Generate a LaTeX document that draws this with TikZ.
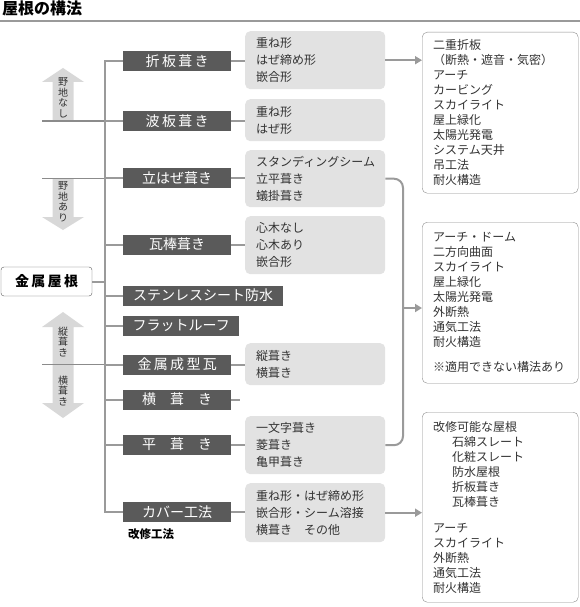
\documentclass[tikz,border=0pt]{standalone}
\usepackage{fontspec}
\setmainfont{Noto Sans CJK JP}
\usetikzlibrary{calc,arrows.meta}
\definecolor{barfill}{HTML}{5A5A5A}
\definecolor{subfill}{HTML}{E2E2E2}
\definecolor{subtext}{HTML}{333333}
\definecolor{linegray}{HTML}{9A9A9A}
\definecolor{notedraw}{HTML}{8C8C8C}
\definecolor{shaftfill}{HTML}{D8D8D8}

\begin{document}
\begin{tikzpicture}[x=1pt,y=-1pt,
  kind/.style={fill=barfill,text=white,font=\fontsize{14}{16}\selectfont,
    minimum height=20pt,inner sep=0pt,anchor=west},
  sub/.style={fill=subfill,rounded corners=5pt,text=subtext,align=left,
    font=\fontsize{12}{17}\selectfont,inner xsep=11pt,inner ysep=0pt,
    text width=118pt,anchor=north west},
  note/.style={draw=notedraw,fill=white,rounded corners=5pt,text=subtext,
    align=left,font=\fontsize{12}{15}\selectfont,inner xsep=11pt,
    inner ysep=0pt,text width=134pt,anchor=north west},
  vlabel/.style={text=subtext,align=center,font=\fontsize{10}{10.5}\selectfont,inner sep=0pt},
  link/.style={draw=linegray,line width=2pt},
  tolink/.style={link,-{Triangle[length=7pt,width=8pt]}},
  divider/.style={draw=linegray!90!black,line width=1pt}]
\useasboundingbox (0,0) rectangle (580,607);

% title
\node[anchor=north west,inner sep=0pt,font=\bfseries\fontsize{16}{16}\selectfont] (title) at (2,1) {屋根の構法};
\draw[link] (0,21) -- (580,21);

% block arrows at the left
\foreach \s/\b/\t in {121/82/68, 178/217/230, 364.5/327/312, 364.5/403/418}
  \fill[shaftfill] (52.5,\s) -- (52.5,\b) -- (42,\b) -- (63,\t) -- (84,\b)
    -- (73.5,\b) -- (73.5,\s) -- cycle;
\node[vlabel] (nashi) at (63,98) {野\\地\\な\\し};
\node[vlabel] (ari) at (63,202) {野\\地\\あ\\り};
\node[vlabel] (tate) at (63,342) {縦\\葺\\き};
\node[vlabel] (yokob) at (63,391) {横\\葺\\き};

% roof kinds
\node[draw=barfill,fill=white,rounded corners=3pt,minimum width=91pt,minimum height=29pt,
  font=\bfseries\fontsize{14}{16}\selectfont] (kinzoku) at (46.5,281.5) {金\,属\,屋\,根};
\node[kind,minimum width=108pt] (oriita) at (123,61) {折\,板\,葺\,き};
\node[kind,minimum width=108pt] (namiita) at (123,121) {波\,板\,葺\,き};
\node[kind,minimum width=108pt] (tatehaze) at (123,178) {立はぜ葺き};
\node[kind,minimum width=108pt] (kawara) at (123,244.5) {瓦棒葺き};
\node[kind,minimum width=160pt] (sus) at (123,295.5) {ステンレスシート防水};
\node[kind,minimum width=116pt] (flat) at (123,325.5) {フラットルーフ};
\node[kind,minimum width=108pt] (seikei) at (123,364.5) {金\,属\,成\,型\,瓦};
\node[kind,minimum width=108pt] (yoko) at (123,399.5) {横　葺　き};
\node[kind,minimum width=108pt] (hira) at (123,444.5) {平　葺　き};
\node[kind,minimum width=108pt] (cover) at (123,512) {カバー工法};
\node[anchor=north west,inner sep=0pt,font=\bfseries\fontsize{11.5}{13}\selectfont]
  (kaishu) at ($(cover.south west)+(5,6)$) {改修工法};

% forms
\node[sub,minimum height=58pt] (oriita-s) at (245,31) {重ね形\\はぜ締め形\\嵌合形};
\node[sub,minimum height=42pt] (namiita-s) at (245,99) {重ね形\\はぜ形};
\node[sub,minimum height=57pt] (tatehaze-s) at (245,150) {スタンディングシーム\\立平葺き\\蟻掛葺き};
\node[sub,minimum height=58pt] (kawara-s) at (245,216) {心木なし\\心木あり\\嵌合形};
\node[sub,minimum height=42pt] (seikei-s) at (245,343) {縦葺き\\横葺き};
\node[sub,minimum height=58pt] (hira-s) at (245,416) {一文字葺き\\菱葺き\\亀甲葺き};
\node[sub,minimum height=59pt] (cover-s) at (245,483) {重ね形・はぜ締め形\\嵌合形・シーム溶接\\横葺き　その他};

% applications
\node[note,minimum height=161pt] (note1) at (422,32) {二重折板\\（断熱・遮音・気密）\\アーチ\\カービング\\スカイライト\\屋上緑化\\太陽光発電\\システム天井\\吊工法\\耐火構造};
\node[note,minimum height=161pt] (note2) at (422,222) {アーチ・ドーム\\二方向曲面\\スカイライト\\屋上緑化\\太陽光発電\\外断熱\\通気工法\\耐火構造\\[10pt]※適用できない構法あり};
\node[note,minimum height=190pt] (note3) at (422,412) {改修可能な屋根\\\hspace*{19pt}石綿スレート\\\hspace*{19pt}化粧スレート\\\hspace*{19pt}防水屋根\\\hspace*{19pt}折板葺き\\\hspace*{19pt}瓦棒葺き\\[11pt]アーチ\\スカイライト\\外断熱\\通気工法\\耐火構造};

% connectors
\coordinate (trunk) at (105,0);
\coordinate (edge) at (42,0);
\coordinate (bend) at (403,308);
\foreach \n in {namiita,tatehaze,seikei}
  \draw[divider] (edge |- \n.west) -- (trunk |- \n.west);
\draw[link] (oriita.west) -- (trunk |- oriita.west) -- (trunk |- cover.west) -- (cover.west);
\foreach \n in {namiita,tatehaze,kawara,sus,flat,seikei,yoko,hira}
  \draw[link] (trunk |- \n.west) -- (\n.west);
\draw[link] (kinzoku.east) -- (trunk |- kinzoku.east);
\foreach \n in {oriita,namiita,tatehaze,kawara,seikei,hira,cover}
  \draw[link] (\n.east) -- (\n.east -| \n-s.west);
\draw[link] (yoko.east) -- ++(9,0);
\draw[link,rounded corners=9pt] (tatehaze-s.east) -| (bend) |- (hira-s.east);
\draw[tolink] (oriita-s.east) -- (oriita-s.east -| note1.west);
\draw[tolink] (bend) -- (bend -| note2.west);
\draw[tolink] (cover-s.east) -- (cover-s.east -| note3.west);
\end{tikzpicture}
\end{document}
